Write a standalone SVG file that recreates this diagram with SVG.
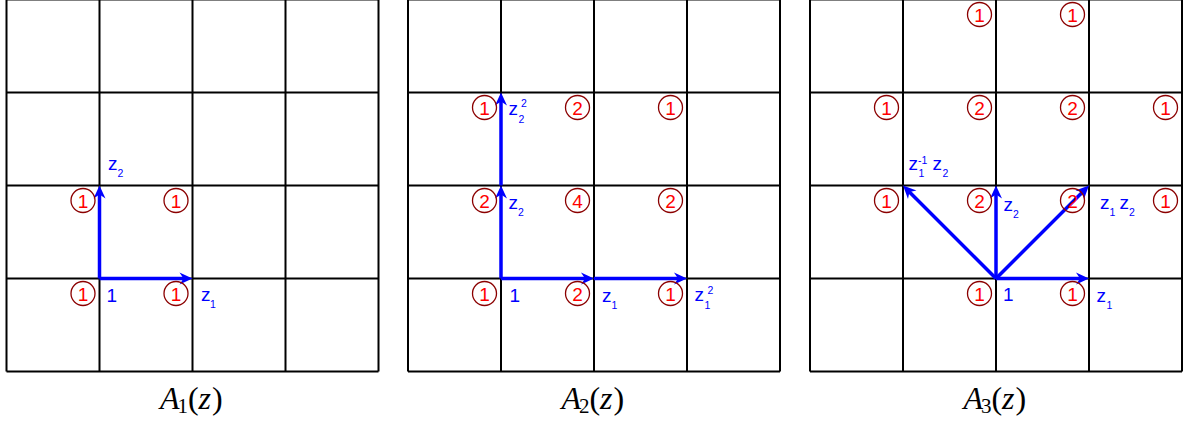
<svg xmlns="http://www.w3.org/2000/svg" width="1186" height="423" viewBox="0 0 1186 423">
<style>
.grid{fill:none;stroke:#000;stroke-width:2}
.arr{fill:none;stroke:#0000ff;stroke-width:3.5;marker-end:url(#ah)}
.c{fill:none;stroke:#8b0000;stroke-width:1.3}
.n{font-family:"Liberation Sans",Arial,sans-serif;font-size:19px;fill:#ff0000;text-anchor:middle}
.l{font-family:"Liberation Sans",Arial,sans-serif;font-size:19px;fill:#0000ff}
.s{font-size:10.5px}
.cap{font-family:"Liberation Serif","Times New Roman",serif;font-size:32px;fill:#000}
.it{font-style:italic}
.cs{font-size:21px}
</style>
<defs>
<marker id="ah" markerUnits="userSpaceOnUse" viewBox="-6 -7 16 14" markerWidth="16" markerHeight="14" refX="0" refY="0" orient="auto">
<path d="M8,0 L-5,-6 L-1,0 L-5,6 Z" fill="#0000ff"/>
</marker>
</defs>
<rect width="1186" height="423" fill="#fff"/>
<g id="grids">
<path class="grid" d="M6.5,-0.5V371.5M99.5,-0.5V371.5M192.5,-0.5V371.5M285.5,-0.5V371.5M378.5,-0.5V371.5M6.5,-0.5H378.5M6.5,92.5H378.5M6.5,185.5H378.5M6.5,278.5H378.5M6.5,371.5H378.5"/>
<path class="grid" d="M408,-0.5V371.5M501,-0.5V371.5M594,-0.5V371.5M687,-0.5V371.5M780,-0.5V371.5M408,-0.5H780M408,92.5H780M408,185.5H780M408,278.5H780M408,371.5H780"/>
<path class="grid" d="M810,-0.5V371.5M903,-0.5V371.5M996,-0.5V371.5M1089,-0.5V371.5M1182,-0.5V371.5M810,-0.5H1182M810,92.5H1182M810,185.5H1182M810,278.5H1182M810,371.5H1182"/>
</g>
<g id="connectors">
<line class="arr" x1="99.5" y1="278.5" x2="184.5" y2="278.5"/>
<line class="arr" x1="99.5" y1="278.5" x2="99.5" y2="193.5"/>
<line class="arr" x1="501" y1="278.5" x2="586" y2="278.5"/>
<line class="arr" x1="594" y1="278.5" x2="679" y2="278.5"/>
<line class="arr" x1="501" y1="278.5" x2="501" y2="193.5"/>
<line class="arr" x1="501" y1="185.5" x2="501" y2="100.5"/>
<line class="arr" x1="996" y1="278.5" x2="1081" y2="278.5"/>
<line class="arr" x1="996" y1="278.5" x2="996" y2="193.5"/>
<line class="arr" x1="996" y1="278.5" x2="1083.3" y2="191.2"/>
<line class="arr" x1="996" y1="278.5" x2="908.7" y2="191.2"/>
</g>
<g id="panel1">
<g id="p1-c1"><circle class="c" cx="83" cy="293.5" r="12"/><text class="n" x="83" y="300.5">1</text></g>
<g id="p1-c2"><circle class="c" cx="176" cy="293.5" r="12"/><text class="n" x="176" y="300.5">1</text></g>
<g id="p1-c3"><circle class="c" cx="83" cy="200.5" r="12"/><text class="n" x="83" y="207.5">1</text></g>
<g id="p1-c4"><circle class="c" cx="176" cy="200.5" r="12"/><text class="n" x="176" y="207.5">1</text></g>
<text class="l" x="106.5" y="301.5">1</text>
<text class="l" x="201" y="300.7">z<tspan class="s" x="210" y="307.5">1</tspan></text>
<text class="l" x="108" y="170">z<tspan class="s" x="117.5" y="177">2</tspan></text>
<text class="cap" x="160" y="408.5"><tspan class="it">A</tspan><tspan class="cs" x="177.5" y="413">1</tspan><tspan x="188" y="408.5">(</tspan><tspan class="it" x="198.5">z</tspan><tspan x="212">)</tspan></text>
</g>
<g id="panel2">
<g id="p2-c1"><circle class="c" cx="484.5" cy="293.5" r="12"/><text class="n" x="484.5" y="300.5">1</text></g>
<g id="p2-c2"><circle class="c" cx="577.5" cy="293.5" r="12"/><text class="n" x="577.5" y="300.5">2</text></g>
<g id="p2-c3"><circle class="c" cx="670.5" cy="293.5" r="12"/><text class="n" x="670.5" y="300.5">1</text></g>
<g id="p2-c4"><circle class="c" cx="484.5" cy="200.5" r="12"/><text class="n" x="484.5" y="207.5">2</text></g>
<g id="p2-c5"><circle class="c" cx="577.5" cy="200.5" r="12"/><text class="n" x="577.5" y="207.5">4</text></g>
<g id="p2-c6"><circle class="c" cx="670.5" cy="200.5" r="12"/><text class="n" x="670.5" y="207.5">2</text></g>
<g id="p2-c7"><circle class="c" cx="484.5" cy="107.5" r="12"/><text class="n" x="484.5" y="114.5">1</text></g>
<g id="p2-c8"><circle class="c" cx="577.5" cy="107.5" r="12"/><text class="n" x="577.5" y="114.5">2</text></g>
<g id="p2-c9"><circle class="c" cx="670.5" cy="107.5" r="12"/><text class="n" x="670.5" y="114.5">1</text></g>
<text class="l" x="509.5" y="301.5">1</text>
<text class="l" x="602" y="301.5">z<tspan class="s" x="611.5" y="308.5">1</tspan></text>
<text class="l" x="694.5" y="300.5">z<tspan class="s" x="704.5" y="309">1</tspan><tspan class="s" x="707.5" y="294">2</tspan></text>
<text class="l" x="508.5" y="208.5">z<tspan class="s" x="518" y="215.5">2</tspan></text>
<text class="l" x="508.5" y="115">z<tspan class="s" x="518.5" y="123">2</tspan><tspan class="s" x="521" y="107">2</tspan></text>
<text class="cap" x="561.5" y="408.5"><tspan class="it">A</tspan><tspan class="cs" x="579" y="413">2</tspan><tspan x="589.5" y="408.5">(</tspan><tspan class="it" x="600">z</tspan><tspan x="613.5">)</tspan></text>
</g>
<g id="panel3">
<g id="p3-c1"><circle class="c" cx="979.5" cy="14.5" r="12"/><text class="n" x="979.5" y="21.5">1</text></g>
<g id="p3-c2"><circle class="c" cx="1072.5" cy="14.5" r="12"/><text class="n" x="1072.5" y="21.5">1</text></g>
<g id="p3-c3"><circle class="c" cx="886.5" cy="107.5" r="12"/><text class="n" x="886.5" y="114.5">1</text></g>
<g id="p3-c4"><circle class="c" cx="979.5" cy="107.5" r="12"/><text class="n" x="979.5" y="114.5">2</text></g>
<g id="p3-c5"><circle class="c" cx="1072.5" cy="107.5" r="12"/><text class="n" x="1072.5" y="114.5">2</text></g>
<g id="p3-c6"><circle class="c" cx="1165.5" cy="107.5" r="12"/><text class="n" x="1165.5" y="114.5">1</text></g>
<g id="p3-c7"><circle class="c" cx="886.5" cy="200.5" r="12"/><text class="n" x="886.5" y="207.5">1</text></g>
<g id="p3-c8"><circle class="c" cx="979.5" cy="200.5" r="12"/><text class="n" x="979.5" y="207.5">2</text></g>
<g id="p3-c9"><circle class="c" cx="1072.5" cy="200.5" r="12"/><text class="n" x="1072.5" y="207.5">2</text></g>
<g id="p3-c10"><circle class="c" cx="1165.5" cy="200.5" r="12"/><text class="n" x="1165.5" y="207.5">1</text></g>
<g id="p3-c11"><circle class="c" cx="979.5" cy="293.5" r="12"/><text class="n" x="979.5" y="300.5">1</text></g>
<g id="p3-c12"><circle class="c" cx="1072.5" cy="293.5" r="12"/><text class="n" x="1072.5" y="300.5">1</text></g>
<text class="l" x="1003" y="300.5">1</text>
<text class="l" x="1096.5" y="301.5">z<tspan class="s" x="1106.5" y="308.5">1</tspan></text>
<text class="l" x="1003.5" y="211">z<tspan class="s" x="1013" y="218">2</tspan></text>
<text class="l" x="1100" y="208.5">z<tspan class="s" x="1109.5" y="215.5">1</tspan><tspan x="1119.5" y="208.5">z</tspan><tspan class="s" x="1129" y="215.5">2</tspan></text>
<text class="l" x="908.5" y="170">z<tspan class="s" x="918" y="163.5">-1</tspan><tspan class="s" x="918.5" y="177">1</tspan><tspan x="932.5" y="170">z</tspan><tspan class="s" x="942.5" y="177">2</tspan></text>
<text class="cap" x="963.5" y="408.5"><tspan class="it">A</tspan><tspan class="cs" x="981" y="413">3</tspan><tspan x="991.5" y="408.5">(</tspan><tspan class="it" x="1002">z</tspan><tspan x="1015.5">)</tspan></text>
</g>
</svg>
